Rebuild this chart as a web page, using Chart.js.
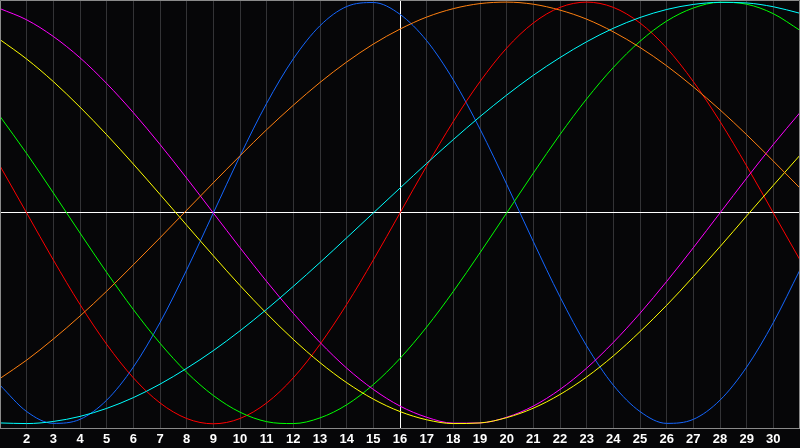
<!DOCTYPE html>
<html>
<head>
<meta charset="utf-8">
<script src="https://cdn.jsdelivr.net/npm/chart.js@4/dist/chart.umd.min.js"></script>
<style>
  html, body { margin: 0; padding: 0; background: #060608; }
  #wrap { width: 800px; height: 448px; }
</style>
</head>
<body>
<div id="wrap"><canvas id="chart" width="800" height="448"></canvas></div>
<script>
// days of the month
const days = [1, 2, 3, 4, 5, 6, 7, 8, 9, 10, 11, 12, 13, 14, 15, 16, 17, 18, 19, 20, 21, 22, 23, 24, 25, 26, 27, 28, 29, 30, 31];

// curves (-1 .. 1)
const blue    = [-0.817, -0.942, -0.998, -0.979, -0.888, -0.731, -0.520, -0.270, 0.000, 0.270, 0.520, 0.731, 0.888, 0.979, 0.998, 0.942, 0.817, 0.631, 0.398, 0.136, -0.136, -0.398, -0.631, -0.817, -0.942, -0.998, -0.979, -0.888, -0.731, -0.520, -0.270];
const red     = [0.223, 0.000, -0.223, -0.434, -0.623, -0.782, -0.901, -0.975, -1.000, -0.975, -0.901, -0.782, -0.623, -0.434, -0.223, 0.000, 0.223, 0.434, 0.623, 0.782, 0.901, 0.975, 1.000, 0.975, 0.901, 0.782, 0.623, 0.434, 0.223, 0.000, -0.223];
const green   = [0.458, 0.282, 0.095, -0.095, -0.282, -0.458, -0.618, -0.756, -0.866, -0.945, -0.990, -0.999, -0.972, -0.910, -0.814, -0.690, -0.541, -0.372, -0.189, 0.000, 0.189, 0.372, 0.541, 0.690, 0.814, 0.910, 0.972, 0.999, 0.990, 0.945, 0.866];
const cyan    = [-0.996, -0.999, -0.989, -0.965, -0.927, -0.876, -0.812, -0.737, -0.653, -0.559, -0.457, -0.348, -0.235, -0.118, 0.000, 0.118, 0.235, 0.348, 0.457, 0.559, 0.653, 0.737, 0.812, 0.876, 0.927, 0.965, 0.989, 0.999, 0.996, 0.978, 0.947];
const magenta = [0.969, 0.916, 0.837, 0.736, 0.614, 0.476, 0.325, 0.165, 0.000, -0.165, -0.325, -0.476, -0.614, -0.736, -0.837, -0.916, -0.969, -0.997, -0.996, -0.969, -0.916, -0.837, -0.736, -0.614, -0.476, -0.325, -0.165, 0.000, 0.165, 0.325, 0.476];
const yellow  = [0.822, 0.730, 0.623, 0.502, 0.371, 0.232, 0.088, -0.058, -0.203, -0.344, -0.477, -0.600, -0.710, -0.805, -0.883, -0.942, -0.981, -0.999, -0.996, -0.971, -0.926, -0.861, -0.778, -0.678, -0.563, -0.438, -0.302, -0.160, -0.014, 0.131, 0.274];
const orange  = [-0.785, -0.698, -0.598, -0.489, -0.371, -0.246, -0.118, 0.013, 0.143, 0.271, 0.395, 0.511, 0.619, 0.716, 0.801, 0.872, 0.929, 0.969, 0.993, 1.000, 0.990, 0.962, 0.919, 0.859, 0.785, 0.698, 0.598, 0.489, 0.371, 0.246, 0.118];

const series = [
  { data: cyan,    color: "#00ffff" },
  { data: orange,  color: "#ff8010" },
  { data: yellow,  color: "#ffff00" },
  { data: magenta, color: "#ff00ff" },
  { data: green,   color: "#00ff00" },
  { data: red,     color: "#ff0000" },
  { data: blue,    color: "#1466ff" },
];

const BG = "#060608";
const GRID = "#333336";
const FRAME = "#8a8a8a";

const backdrop = {
  id: "backdrop",
  beforeDraw(chart) {
    const c = chart.ctx;
    c.save();
    c.fillStyle = BG;
    c.fillRect(0, 0, chart.width, chart.height);
    c.restore();
  },
  afterDraw(chart) {
    const c = chart.ctx, a = chart.chartArea;
    c.save();
    c.strokeStyle = FRAME;
    c.lineWidth = 1;
    c.beginPath();
    c.moveTo(0.5, a.bottom);
    c.lineTo(0.5, 0.5);
    c.lineTo(chart.width - 0.5, 0.5);
    c.lineTo(chart.width - 0.5, a.bottom);
    c.stroke();
    c.restore();
  }
};

new Chart(document.getElementById("chart"), {
  type: "line",
  data: {
    datasets: series.map(s => ({
      data: days.map((d, i) => ({ x: d, y: s.data[i] })),
      borderColor: s.color,
      borderWidth: 1,
      pointRadius: 0,
      cubicInterpolationMode: "monotone",
      fill: false,
    })),
  },
  options: {
    responsive: false,
    animation: false,
    events: [],
    layout: { padding: 0 },
    plugins: {
      legend: { display: false },
      tooltip: { enabled: false },
    },
    scales: {
      x: {
        type: "linear",
        min: 1,
        max: 31,
        afterFit: (axis) => {
          axis.height = 20;
          axis.paddingLeft = 0;
          axis.paddingRight = 0;
        },
        afterBuildTicks: (axis) => { axis.ticks = days.map(d => ({ value: d })); },
        grid: {
          drawTicks: false,
          color: (ctx) => (ctx.tick && ctx.tick.value === 16 ? "#ffffff" : GRID),
          lineWidth: 1,
        },
        border: { display: true, color: FRAME },
        ticks: {
          padding: 4,
          color: "#ffffff",
          maxRotation: 0,
          autoSkip: false,
          font: { family: "Liberation Sans", size: 13, weight: "bold" },
          callback: (v) => (v === 1 || v === 31 ? "" : v),
        },
      },
      y: {
        min: -1.02,
        max: 1.01,
        afterFit: (axis) => {
          axis.width = 0;
          axis.paddingTop = 0;
          axis.paddingBottom = 0;
        },
        afterBuildTicks: (axis) => { axis.ticks = [{ value: 0 }]; },
        grid: {
          drawTicks: false,
          color: "#ffffff",
          lineWidth: 1,
        },
        border: { display: false },
        ticks: { display: false },
      },
    },
  },
  plugins: [backdrop],
});
</script>
</body>
</html>
